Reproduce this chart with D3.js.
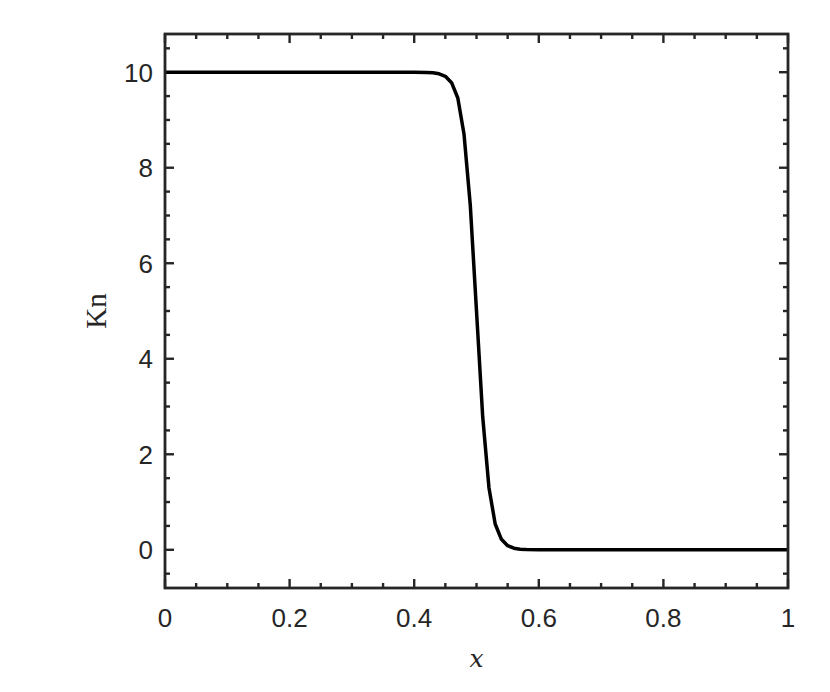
<!DOCTYPE html>
<html>
<head>
<meta charset="utf-8">
<script src="https://cdn.jsdelivr.net/npm/d3@7"></script>
<style>
  body { margin: 0; background: #fff; }
  svg text { fill: #262626; }
</style>
</head>
<body>
<div id="chart"></div>
<script>
// Kn profile across the domain
const xs = [0, 0.10, 0.20, 0.30, 0.40, 0.42, 0.43, 0.44, 0.45, 0.46, 0.47, 0.48, 0.49,
  0.50, 0.51, 0.52, 0.53, 0.54, 0.55, 0.56, 0.57, 0.58, 0.60, 0.70, 0.80, 0.90, 1.00];
const kn = [10, 10, 10, 10, 10, 9.995, 9.987, 9.967, 9.915, 9.78, 9.46, 8.70, 7.22,
  5.00, 2.78, 1.30, 0.54, 0.22, 0.085, 0.033, 0.013, 0.005, 0.001, 0, 0, 0, 0];

const xTicks = [0, 0.2, 0.4, 0.6, 0.8, 1];
const yTicks = [0, 2, 4, 6, 8, 10];
const xMinor = d3.range(0, 1.0001, 0.05);
const yMinor = d3.range(-0.5, 10.8, 0.5);

const W = 830, H = 692;
const m = { left: 165, right: 42, top: 34, bottom: 104 };
const iw = W - m.left - m.right, ih = H - m.top - m.bottom;

const svg = d3.select("#chart").append("svg").attr("width", W).attr("height", H);
const g = svg.append("g").attr("transform", `translate(${m.left},${m.top})`);

const x = d3.scaleLinear().domain([0, 1]).range([0, iw]);
const y = d3.scaleLinear().domain([-0.8, 10.8]).range([ih, 0]);

const axisColor = "#262626";
const fontSans = "'Liberation Sans', Arial, sans-serif";

// ticks, pointing inward, mirrored on all four sides
const tickG = g.append("g").attr("stroke", axisColor).attr("stroke-width", 2.4);
const isMajor = (v, list) => list.some(t => Math.abs(t - v) < 1e-6);

xMinor.forEach(v => {
  const len = isMajor(v, xTicks) ? 9 : 5;
  tickG.append("line").attr("x1", x(v)).attr("x2", x(v)).attr("y1", ih).attr("y2", ih - len);
  tickG.append("line").attr("x1", x(v)).attr("x2", x(v)).attr("y1", 0).attr("y2", len);
});
yMinor.forEach(v => {
  const len = isMajor(v, yTicks) ? 9 : 5;
  tickG.append("line").attr("y1", y(v)).attr("y2", y(v)).attr("x1", 0).attr("x2", len);
  tickG.append("line").attr("y1", y(v)).attr("y2", y(v)).attr("x1", iw).attr("x2", iw - len);
});

// tick labels
g.append("g").selectAll("text").data(xTicks).join("text")
  .attr("x", d => x(d)).attr("y", ih + 39)
  .attr("text-anchor", "middle")
  .style("font-family", fontSans).style("font-size", "26px")
  .text(d => d3.format("")(d));

g.append("g").selectAll("text").data(yTicks).join("text")
  .attr("x", -12).attr("y", d => y(d)).attr("dy", "0.36em")
  .attr("text-anchor", "end")
  .style("font-family", fontSans).style("font-size", "26px")
  .text(d => d);

// curve
const line = d3.line().x((d, i) => x(xs[i])).y(d => y(d));
g.append("path").datum(kn)
  .attr("d", line)
  .attr("fill", "none")
  .attr("stroke", "#000")
  .attr("stroke-width", 3.5)
  .attr("stroke-linejoin", "round");

// frame
g.append("rect").attr("width", iw).attr("height", ih)
  .attr("fill", "none").attr("stroke", axisColor).attr("stroke-width", 2.8);

// axis labels
g.append("text")
  .attr("x", iw / 2).attr("y", ih + 79)
  .attr("text-anchor", "middle")
  .style("font-family", "'DejaVu Serif', 'Liberation Serif', serif")
  .style("font-style", "italic").style("font-size", "25px")
  .text("x");

g.append("text")
  .attr("transform", `translate(${-59},${ih / 2}) rotate(-90)`)
  .attr("text-anchor", "middle")
  .style("font-family", "'Liberation Serif', 'DejaVu Serif', serif")
  .style("font-size", "29px")
  .text("Kn");
</script>
</body>
</html>
